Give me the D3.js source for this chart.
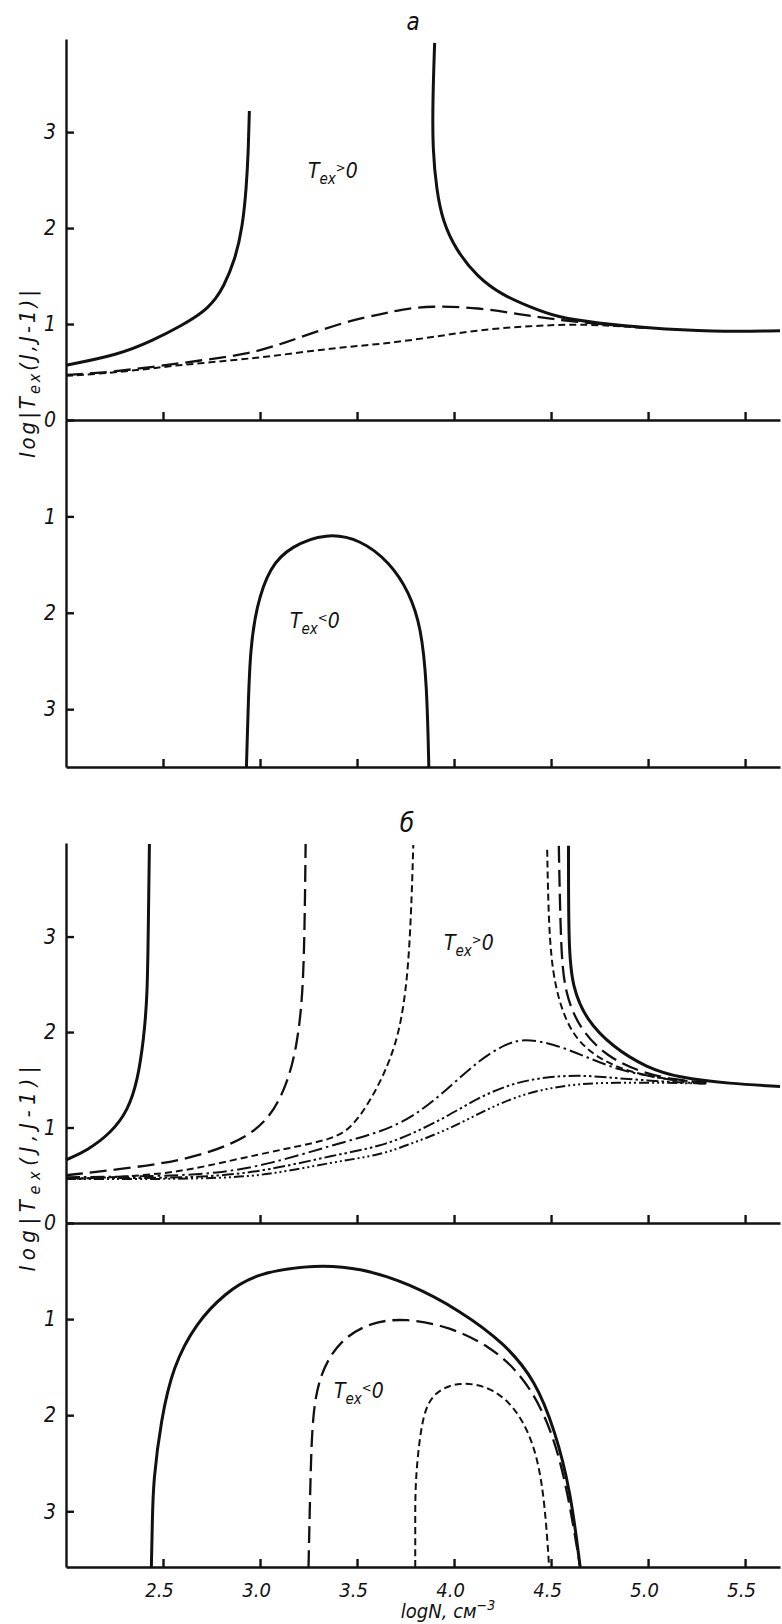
<html>
<head>
<meta charset="utf-8">
<script src="https://d3js.org/d3.v7.min.js"></script>
<style>
  body { margin: 0; background: #fff; }
  text { font-family: "DejaVu Sans Condensed", "Liberation Sans", sans-serif; font-style: italic; fill: #111; }
  .axis path, .axis line { stroke: #111; stroke-width: 2.4; }
  .curve { fill: none; stroke: #111; }
</style>
</head>
<body>
<svg width="782" height="1624"></svg>
<script>
// x ticks (log N) and y ticks (log |Tex|)
var xTicks = [2.5, 3.0, 3.5, 4.0, 4.5, 5.0, 5.5];
var yTicks = [0, 1, 2, 3];

// panel "a", Tex > 0
var aSolidLeft  = [[2.0,0.57],[2.27,0.68],[2.44,0.82],[2.61,1.0],[2.68,1.09],[2.73,1.17],[2.77,1.26],[2.81,1.38],[2.87,1.66],[2.91,2.01],[2.93,2.43],[2.94,2.82],[2.945,3.22]];
var aSolidRight = [[3.90,3.93],[3.89,3.33],[3.89,2.81],[3.91,2.40],[3.94,2.08],[4.01,1.77],[4.12,1.49],[4.25,1.30],[4.39,1.18],[4.53,1.07],[4.74,1.01],[4.99,0.96],[5.33,0.92],[5.68,0.93]];
var aDashed     = [[2.0,0.47],[2.18,0.49],[2.44,0.55],[2.69,0.62],[2.95,0.69],[3.12,0.80],[3.29,0.92],[3.47,1.04],[3.62,1.10],[3.72,1.15],[3.88,1.19],[4.13,1.17],[4.34,1.10],[4.51,1.05],[4.74,1.00],[4.99,0.96]];
var aDotted     = [[2.0,0.46],[2.3,0.50],[2.56,0.57],[2.86,0.62],[3.12,0.68],[3.38,0.75],[3.62,0.79],[3.88,0.86],[4.13,0.94],[4.39,0.98],[4.65,1.00],[4.82,0.98],[5.0,0.96]];
// panel "a", Tex < 0
var aSolidNeg   = [[2.93,3.6],[2.94,2.9],[2.95,2.39],[2.98,1.94],[3.05,1.52],[3.16,1.31],[3.34,1.17],[3.52,1.24],[3.67,1.48],[3.77,1.79],[3.83,2.15],[3.86,2.73],[3.87,3.6]];

// panel "б", Tex > 0
var bSolidLeft   = [[2.0,0.66],[2.11,0.76],[2.23,0.94],[2.32,1.18],[2.37,1.50],[2.40,1.92],[2.42,2.37],[2.425,3.25],[2.43,3.97]];
var bDashedLeft  = [[2.0,0.50],[2.35,0.58],[2.61,0.66],[2.86,0.82],[3.04,1.05],[3.14,1.45],[3.19,1.85],[3.22,2.37],[3.23,3.07],[3.235,3.97]];
var bDottedLeft  = [[2.0,0.46],[2.52,0.50],[2.86,0.66],[3.14,0.78],[3.38,0.88],[3.47,1.0],[3.55,1.22],[3.62,1.48],[3.67,1.71],[3.72,2.02],[3.76,2.54],[3.78,3.28],[3.79,3.96]];
var bSolidRight  = [[4.59,3.95],[4.59,2.89],[4.61,2.47],[4.68,2.13],[4.82,1.84],[4.99,1.63],[5.16,1.52],[5.42,1.46],[5.68,1.43]];
var bDashedRight = [[4.54,3.95],[4.55,2.89],[4.57,2.41],[4.65,2.02],[4.79,1.74],[4.96,1.58],[5.13,1.50],[5.3,1.47]];
var bDottedRight = [[4.48,3.91],[4.49,2.89],[4.53,2.37],[4.61,1.95],[4.75,1.71],[4.92,1.57],[5.11,1.50],[5.3,1.47]];
var bDashDot1 = [[2.0,0.48],[2.5,0.49],[2.78,0.52],[3.04,0.61],[3.38,0.82],[3.62,0.95],[3.79,1.11],[3.96,1.39],[4.13,1.71],[4.27,1.88],[4.36,1.93],[4.51,1.88],[4.68,1.74],[4.85,1.60],[5.05,1.52],[5.2,1.48]];
var bDashDot2 = [[2.0,0.47],[2.5,0.47],[2.78,0.49],[3.04,0.55],[3.38,0.71],[3.62,0.80],[3.79,0.94],[3.96,1.11],[4.13,1.32],[4.31,1.47],[4.48,1.53],[4.65,1.55],[4.82,1.52],[5.08,1.48],[5.3,1.46]];
var bDashDot3 = [[2.0,0.46],[2.5,0.46],[2.78,0.47],[3.04,0.50],[3.38,0.64],[3.62,0.71],[3.79,0.84],[3.96,0.97],[4.13,1.15],[4.31,1.32],[4.48,1.41],[4.65,1.46],[4.82,1.47],[5.08,1.47],[5.3,1.46]];
// panel "б", Tex < 0
var bSolidNeg  = [[2.44,3.58],[2.445,3.1],[2.45,2.68],[2.49,2.05],[2.55,1.50],[2.67,1.04],[2.82,0.73],[2.98,0.52],[3.29,0.43],[3.52,0.47],[3.77,0.63],[4.03,0.91],[4.26,1.25],[4.42,1.64],[4.52,2.16],[4.60,2.78],[4.65,3.58]];
var bDashedNeg = [[3.25,3.58],[3.255,3.1],[3.26,2.68],[3.27,1.98],[3.31,1.56],[3.41,1.22],[3.57,1.03],[3.75,0.99],[3.98,1.08],[4.19,1.29],[4.34,1.56],[4.47,1.98],[4.57,2.60],[4.65,3.58]];
var bDottedNeg = [[3.80,3.58],[3.80,3.1],[3.80,2.68],[3.83,2.08],[3.88,1.77],[4.03,1.64],[4.21,1.72],[4.34,1.98],[4.43,2.40],[4.47,2.96],[4.49,3.58]];

var styles = {
  solid:   {w: 3.0, dash: null},
  dashed:  {w: 2.3, dash: "17,7"},
  dotted:  {w: 2.0, dash: "7,4"},
  dashdot1:{w: 2.0, dash: "14,4,2.5,4"},
  dashdot2:{w: 2.0, dash: "12,3,2.5,3,2.5,3"},
  dashdot3:{w: 2.0, dash: "10,3,2,3,2,3,2,3"}
};

var svg = d3.select("svg");
var x = d3.scaleLinear().domain([2.0, 5.68]).range([66, 780]);

function panel(zeroY, topY, botY, upMax, downMax, curvesUp, curvesDown, showXLabels, titleY, titleLen) {
  var yUp = d3.scaleLinear().domain([0, upMax]).range([zeroY, topY]);
  var yDown = d3.scaleLinear().domain([0, downMax]).range([zeroY, botY]);
  var g = svg.append("g");

  var line = function(ys) {
    return d3.line().x(function(d) { return x(d[0]); }).y(function(d) { return ys(d[1]); })
      .curve(d3.curveBasis);
  };
  function draw(list, ys) {
    list.forEach(function(c) {
      var st = styles[c.style];
      g.append("path").attr("class", "curve")
        .attr("d", line(ys)(c.data))
        .attr("stroke-width", st.w)
        .attr("stroke-dasharray", st.dash);
    });
  }
  draw(curvesUp, yUp);
  draw(curvesDown, yDown);

  // zero line with ticks
  g.append("g").attr("class", "axis").attr("transform", "translate(0," + zeroY + ")")
    .call(d3.axisTop(x).tickValues(xTicks).tickSize(8).tickSizeOuter(0).tickFormat(""));
  // bottom line with ticks
  g.append("g").attr("class", "axis").attr("transform", "translate(0," + botY + ")")
    .call(d3.axisTop(x).tickValues(xTicks).tickSize(8).tickSizeOuter(0).tickFormat(""));
  if (showXLabels) {
    g.append("g").attr("transform", "translate(-4," + botY + ")")
      .call(d3.axisBottom(x).tickValues(xTicks).tickSize(0).tickPadding(16).tickFormat(d3.format(".1f")))
      .call(function(a) {
        a.select(".domain").remove();
        a.selectAll("text").attr("font-size", 20).attr("fill", "#111")
          .attr("font-family", "DejaVu Sans Condensed, Liberation Sans, sans-serif").attr("font-style", "italic");
      });
  }
  // y axes
  g.append("g").attr("class", "axis").attr("transform", "translate(" + x(2.0) + ",0)")
    .call(d3.axisLeft(yUp).tickValues(yTicks).tickSize(-8).tickSizeOuter(0).tickPadding(10).tickFormat(d3.format("d")))
    .call(function(a) {
      a.selectAll("text").attr("font-size", 21).attr("fill", "#111")
        .attr("font-family", "DejaVu Sans Condensed, Liberation Sans, sans-serif").attr("font-style", "italic");
    });
  g.append("g").attr("class", "axis").attr("transform", "translate(" + x(2.0) + ",0)")
    .call(d3.axisLeft(yDown).tickValues(yTicks.slice(1)).tickSize(-8).tickSizeOuter(0).tickPadding(10).tickFormat(d3.format("d")))
    .call(function(a) {
      a.selectAll("text").attr("font-size", 21).attr("fill", "#111")
        .attr("font-family", "DejaVu Sans Condensed, Liberation Sans, sans-serif").attr("font-style", "italic");
    });

  // rotated y title
  var t = g.append("text").attr("transform", "translate(35," + titleY + ") rotate(-90)")
    .attr("text-anchor", "middle").attr("font-size", 22)
    .attr("textLength", titleLen).attr("lengthAdjust", "spacing");
  t.append("tspan").text("log|T");
  t.append("tspan").attr("font-size", 16).attr("dy", 5).text("ex");
  t.append("tspan").attr("dy", -5).text("(J,J-1)|");
  return {yUp: yUp, yDown: yDown};
}

function texLabel(px, py, sign) {
  var t = svg.append("text").attr("x", px).attr("y", py).attr("font-size", 21);
  t.append("tspan").text("T");
  t.append("tspan").attr("font-size", 15).attr("dy", 6).text("ex");
  t.append("tspan").attr("font-size", 13).attr("dy", -12).text(sign);
  t.append("tspan").attr("dy", 6).text("0");
}

panel(420, 39, 767, 3.97, 3.6,
  [{data: aSolidLeft, style: "solid"}, {data: aSolidRight, style: "solid"},
   {data: aDashed, style: "dashed"}, {data: aDotted, style: "dotted"}],
  [{data: aSolidNeg, style: "solid"}], false, 374, 168);

panel(1223, 843, 1567, 3.98, 3.58,
  [{data: bSolidLeft, style: "solid"}, {data: bDashedLeft, style: "dashed"}, {data: bDottedLeft, style: "dotted"},
   {data: bSolidRight, style: "solid"}, {data: bDashedRight, style: "dashed"}, {data: bDottedRight, style: "dotted"},
   {data: bDashDot1, style: "dashdot1"}, {data: bDashDot2, style: "dashdot2"}, {data: bDashDot3, style: "dashdot3"}],
  [{data: bSolidNeg, style: "solid"}, {data: bDashedNeg, style: "dashed"}, {data: bDottedNeg, style: "dotted"}], true, 1169, 205);

texLabel(308, 178, ">");
texLabel(290, 628, "<");
texLabel(444, 950, ">");
texLabel(334, 1398, "<");

svg.append("text").attr("x", 413).attr("y", 30).attr("text-anchor", "middle").attr("font-size", 24).text("a");
svg.append("text").attr("x", 407).attr("y", 832).attr("text-anchor", "middle").attr("font-size", 26).text("б");

var xt = svg.append("text").attr("x", 448).attr("y", 1618).attr("text-anchor", "middle").attr("font-size", 20);
xt.append("tspan").text("logN, см");
xt.append("tspan").attr("font-size", 14).attr("dy", -8).text("−3");
</script>
</body>
</html>
